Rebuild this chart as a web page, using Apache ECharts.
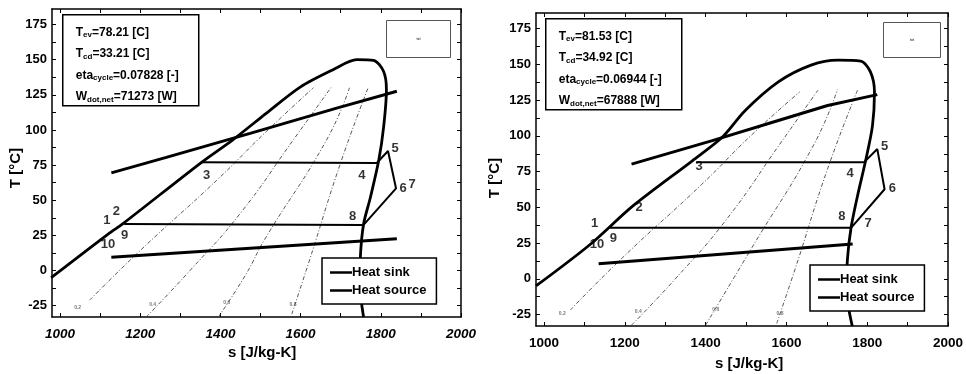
<!DOCTYPE html>
<html>
<head>
    <meta charset="utf-8">
    <script src="https://cdn.jsdelivr.net/npm/echarts@6/dist/echarts.min.js"></script>
    <style>
        html, body { margin: 0; padding: 0; background: #fff; }
        #main { width: 966px; height: 374px; }
    </style>
</head>
<body>
    <div id="main"></div>
    <script type="text/javascript">
        // axis ticks (s in J/kg-K, T in C)
        var sLabels = [1000, 1200, 1400, 1600, 1800, 2000];
        var sTicks = [1000, 1100, 1200, 1300, 1400, 1500, 1600, 1700, 1800, 1900, 2000];
        var tLabels = [-25, 0, 25, 50, 75, 100, 125, 150, 175];
        var tTicks = [-25, -12.5, 0, 12.5, 25, 37.5, 50, 62.5, 75, 87.5, 100, 112.5, 125, 137.5, 150, 162.5, 175];

        // left case
        var domeA = [[978, -5], [1120, 26], [1157, 33.4], [1353, 77], [1431, 93], [1515, 112], [1599, 130.5], [1682, 143], [1740, 150], [1782, 149.5], [1807, 141.6], [1814, 128.6], [1807, 102], [1795, 78.6], [1774, 52], [1757, 33], [1749, 9.5], [1748, -10], [1757, -33]];
        var cycleA = [[1353, 77], [1790, 76.5], [1818, 85], [1838, 58.4], [1757, 32.5], [1160, 33.2]];
        var sourceA = [[1128, 69.5], [1265, 80.5], [1474, 97.6], [1690, 115.5], [1840, 127.5]];
        var sinkA = [[1128, 9.5], [1840, 22.6]];
        var q02A = [[1074, -21], [1199, 14], [1390, 64], [1515, 99], [1632, 130]];
        var q04A = [[1215, -33], [1324, 0], [1449, 40.5], [1582, 93], [1678, 131]];
        var q06A = [[1395, -33], [1465, -2], [1510, 22], [1665, 93], [1722, 130]];
        var q08A = [[1578, -31], [1624, 9], [1699, 76], [1769, 130.5]];
        var pointsA = [[1117, 35.7, '1'], [1140.5, 42.4, '2'], [1365.5, 67.9, '3'], [1753, 67.4, '4'], [1836, 86.9, '5'], [1855.5, 58.4, '6'], [1878, 61.2, '7'], [1729.5, 38.6, '8'], [1161, 25, '9'], [1119.5, 18.6, '10']];
        var qLabelsA = [[1044, -26.4, '0.2'], [1231, -24.3, '0.4'], [1416, -22.9, '0.6'], [1581, -24.3, '0.8']];
        var infoA = ['78.21', '33.21', '0.07828', '71273'];

        // right case
        var domeB = [[980, -5], [1114, 24], [1220, 51], [1367, 82.6], [1441, 99], [1498, 117.8], [1580, 137.8], [1661, 149.5], [1727, 153], [1784, 152.3], [1808, 144.8], [1818, 130.8], [1813, 107], [1796, 82.6], [1776, 58], [1760, 35.7], [1751, 13.4], [1749, -8], [1763, -33]];
        var cycleB = [[1376, 81.5], [1792, 81.5], [1825, 90.8], [1843, 62.7], [1760, 35.7], [1163, 35.7]];
        var sourceB = [[1216.5, 80.3], [1416.5, 96.7], [1580, 110.8], [1702, 121.3], [1825, 128.9]];
        var sinkB = [[1135, 10.6], [1764, 24.4]];
        var q02B = [[1065, -21.8], [1195, 15], [1390, 66], [1515, 101], [1633, 130.8]];
        var q04B = [[1216.5, -32.4], [1325, 0], [1450, 41], [1583, 94], [1678, 132]];
        var q06B = [[1400, -32.4], [1515, 22], [1668, 94], [1726.5, 132.6]];
        var q08B = [[1576, -31.2], [1624, 9], [1702, 77], [1776, 132]];
        var pointsB = [[1125, 38.5, '1'], [1235, 49.8, '2'], [1384, 78.5, '3'], [1758, 73.9, '4'], [1843, 92.5, '5'], [1862, 63.2, '6'], [1802, 38.7, '7'], [1737, 43.5, '8'], [1171.5, 28, '9'], [1131, 24, '10']];
        var qLabelsB = [[1045, -24.6, '0.2'], [1233, -23, '0.4'], [1425, -21.3, '0.6'], [1584, -24, '0.8']];
        var infoB = ['81.53', '34.92', '0.06944', '67888'];

        var font = "'Liberation Sans', Arial, sans-serif";
        var narrow = "'Liberation Sans Narrow', 'Liberation Sans', Arial, sans-serif";

        function plain(v) { return String(v); }

        function xAxes(grid, italic) {
            return [{
                gridIndex: grid, type: 'value', min: 980, max: 2000, position: 'bottom',
                splitLine: { show: false },
                axisLine: { onZero: false, lineStyle: { color: '#000', width: 1.5 } },
                axisTick: { inside: true, length: 4, customValues: sTicks, lineStyle: { color: '#000' } },
                axisLabel: {
                    customValues: sLabels, formatter: plain, color: '#000', fontSize: 13.5, fontWeight: 'bold',
                    fontStyle: italic ? 'italic' : 'normal', fontFamily: font, margin: 10
                }
            }, {
                gridIndex: grid, type: 'value', min: 980, max: 2000, position: 'top',
                splitLine: { show: false },
                axisLine: { onZero: false, lineStyle: { color: '#000', width: 1.5 } },
                axisTick: { inside: true, length: 4, customValues: sTicks, lineStyle: { color: '#000' } },
                axisLabel: { show: false }
            }];
        }

        function yAxes(grid) {
            return [{
                gridIndex: grid, type: 'value', min: -33, max: 186, position: 'left',
                splitLine: { show: false },
                axisLine: { onZero: false, lineStyle: { color: '#000', width: 1.5 } },
                axisTick: { inside: true, length: 4, customValues: tTicks, lineStyle: { color: '#000' } },
                axisLabel: { customValues: tLabels, formatter: plain, color: '#000', fontSize: 13, fontWeight: 'bold', fontFamily: font, margin: 5 }
            }, {
                gridIndex: grid, type: 'value', min: -33, max: 186, position: 'right',
                splitLine: { show: false },
                axisLine: { onZero: false, lineStyle: { color: '#000', width: 1.5 } },
                axisTick: { inside: true, length: 4, customValues: tTicks, lineStyle: { color: '#000' } },
                axisLabel: { show: false }
            }];
        }

        function thick(name, data, g, w, smooth) {
            return {
                name: name, type: 'line', data: data, xAxisIndex: g * 2, yAxisIndex: g * 2,
                symbol: 'none', smooth: smooth || false, z: 3,
                itemStyle: { color: '#000' },
                lineStyle: { color: '#000', width: w }
            };
        }

        function quality(data, g) {
            return {
                type: 'line', data: data, xAxisIndex: g * 2, yAxisIndex: g * 2,
                symbol: 'none', smooth: true, z: 2, silent: true,
                lineStyle: { color: '#444', width: 0.9, type: [4, 2, 1, 2] }
            };
        }

        function labels(data, g, size, color) {
            return {
                type: 'scatter', data: data, xAxisIndex: g * 2, yAxisIndex: g * 2,
                symbolSize: 0, z: 5, silent: true,
                label: {
                    show: true, position: 'inside', color: color, fontSize: size,
                    fontWeight: 'bold', fontFamily: font,
                    formatter: function (p) { return p.value[2]; }
                }
            };
        }

        function infoBox(x, y, v, wSub) {
            return {
                type: 'group', left: x, top: y,
                children: [{
                    type: 'rect', shape: { x: 0, y: 0, width: 136, height: 91 },
                    style: { fill: '#fff', stroke: '#000', lineWidth: 1.5 }
                }, {
                    type: 'text', x: 13, y: 7,
                    style: {
                        text: 'T{s|ev}=' + v[0] + ' [C]\nT{s|cd}=' + v[1] + ' [C]\neta{s|cycle}=' + v[2] + ' [-]\nW{s|' + wSub + '}=' + v[3] + ' [W]',
                        font: 'bold 12px ' + narrow, fill: '#000', lineHeight: 21.5,
                        rich: { s: { fontSize: 8, fontWeight: 'bold', fontFamily: narrow, lineHeight: 12, padding: [5, 0, 0, 0] } }
                    }
                }]
            };
        }

        function smallBox(x, y, w, h) {
            return {
                type: 'group', left: x, top: y,
                children: [{
                    type: 'rect', shape: { x: 0, y: 0, width: w, height: h },
                    style: { fill: '#fff', stroke: '#555', lineWidth: 1 }
                }, {
                    type: 'text', x: w / 2, y: h / 2,
                    style: { text: 'txt', font: '4px ' + font, fill: '#000', textAlign: 'center', textVerticalAlign: 'middle' }
                }]
            };
        }

        function legendBox(x, y) {
            return {
                orient: 'vertical', left: x, top: y, padding: [7, 10, 6, 8],
                icon: 'rect', itemWidth: 22, itemHeight: 2.5, itemGap: 3,
                borderColor: '#000', borderWidth: 1.5, backgroundColor: '#fff',
                textStyle: { color: '#000', fontSize: 13, fontWeight: 'bold', fontFamily: font, padding: [0, 0, 0, -5], lineHeight: 15 },
                data: ['Heat sink', 'Heat source']
            };
        }

        var myChart = echarts.init(document.getElementById('main'), null, { renderer: 'canvas' });

        var option = {
            animation: false,
            backgroundColor: '#fff',
            grid: [
                { left: 52, top: 9, width: 409, height: 308 },
                { left: 536, top: 13, width: 414, height: 313 }
            ],
            xAxis: xAxes(0, true).concat(xAxes(1, false)),
            yAxis: yAxes(0).concat(yAxes(1)),
            legend: [legendBox(322, 258), legendBox(810, 265)],
            graphic: [
                infoBox(62, 14, infoA, 'dot,net'),
                infoBox(545, 18, infoB, 'dot,net'),
                smallBox(386, 20, 64, 37),
                smallBox(883, 22, 57, 35),
                { type: 'text', left: 8, top: 148, rotation: Math.PI / 2,
                  style: { text: 'T [°C]', font: 'bold 15px ' + font, fill: '#000' } },
                { type: 'text', left: 487, top: 158, rotation: Math.PI / 2,
                  style: { text: 'T [°C]', font: 'bold 15px ' + font, fill: '#000' } },
                { type: 'text', left: 228, top: 345,
                  style: { text: 's [J/kg-K]', font: 'bold 15px ' + font, fill: '#000' } },
                { type: 'text', left: 715, top: 356,
                  style: { text: 's [J/kg-K]', font: 'bold 15px ' + font, fill: '#000' } }
            ],
            series: [
                quality(q02A, 0), quality(q04A, 0), quality(q06A, 0), quality(q08A, 0),
                thick('dome', domeA, 0, 2.8, 0.3),
                thick('Heat source', sourceA, 0, 3),
                thick('Heat sink', sinkA, 0, 3),
                thick('cycle', cycleA, 0, 2),
                labels(pointsA, 0, 13, '#000'),
                labels(qLabelsA, 0, 5, '#555'),

                quality(q02B, 1), quality(q04B, 1), quality(q06B, 1), quality(q08B, 1),
                thick('dome', domeB, 1, 2.8, 0.3),
                thick('Heat source', sourceB, 1, 3),
                thick('Heat sink', sinkB, 1, 3),
                thick('cycle', cycleB, 1, 2),
                labels(pointsB, 1, 13, '#000'),
                labels(qLabelsB, 1, 5, '#555')
            ]
        };
        myChart.setOption(option);
    </script>
</body>
</html>
